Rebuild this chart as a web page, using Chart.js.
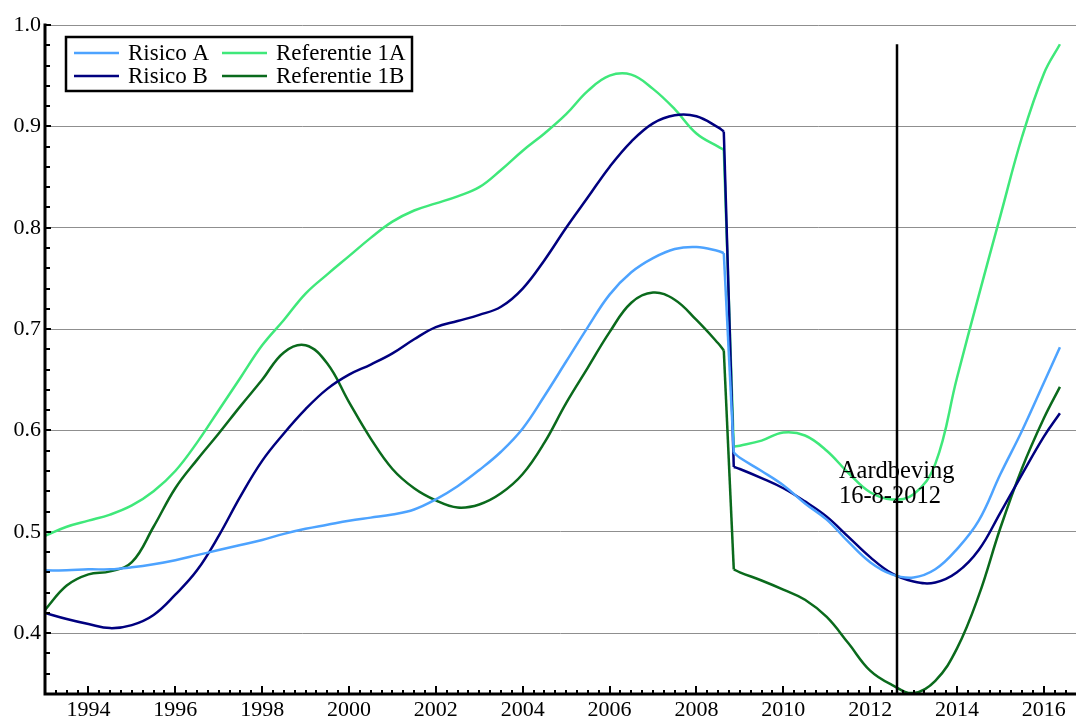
<!DOCTYPE html>
<html>
<head>
<meta charset="utf-8">
<title>Risico en referentie</title>
<script src="https://cdn.jsdelivr.net/npm/chart.js@4.4.1/dist/chart.umd.min.js"></script>
<style>
  html, body { margin: 0; padding: 0; background: #ffffff; }
  #wrap { width: 1076px; height: 722px; position: relative; }
</style>
</head>
<body>
<div id="wrap"><canvas id="chart" width="1076" height="722"></canvas></div>
<script>
// Time axis (decimal years) shared by all four series
const years = [
  1993.0, 1993.5, 1994.0, 1994.5, 1995.0, 1995.5, 1996.0, 1996.5,
  1997.0, 1997.5, 1998.0, 1998.5, 1999.0, 1999.5, 2000.0, 2000.5,
  2001.0, 2001.5, 2002.0, 2002.5, 2003.0, 2003.5, 2004.0, 2004.5,
  2005.0, 2005.5, 2006.0, 2006.5, 2007.0, 2007.5, 2008.0, 2008.5,
  2008.63, 2008.86,
  2009.0, 2009.5, 2010.0, 2010.5, 2011.0, 2011.5, 2012.0, 2012.5,
  2013.0, 2013.5, 2014.0, 2014.5, 2015.0, 2015.5, 2016.0, 2016.37
];

const risicoA = [
  0.462, 0.462, 0.463, 0.463, 0.465, 0.468, 0.472, 0.477,
  0.482, 0.487, 0.492, 0.498, 0.503, 0.507, 0.511, 0.514,
  0.517, 0.522, 0.532, 0.545, 0.561, 0.579, 0.602, 0.634,
  0.668, 0.702, 0.734, 0.756, 0.770, 0.779, 0.781, 0.777,
  0.775, 0.578,
  0.573, 0.560, 0.546, 0.528, 0.512, 0.490, 0.470, 0.458,
  0.455, 0.463, 0.483, 0.511, 0.557, 0.600, 0.647, 0.682
];

const risicoB = [
  0.420, 0.414, 0.409, 0.405, 0.408, 0.418, 0.438, 0.462,
  0.496, 0.535, 0.570, 0.597, 0.621, 0.641, 0.655, 0.665,
  0.676, 0.690, 0.702, 0.708, 0.714, 0.722, 0.740, 0.768,
  0.800, 0.830, 0.860, 0.885, 0.903, 0.911, 0.910, 0.899,
  0.895, 0.564,
  0.562, 0.553, 0.543, 0.530, 0.515, 0.495, 0.475, 0.459,
  0.451, 0.450, 0.460, 0.482, 0.519, 0.557, 0.594, 0.617
];

const referentie1A = [
  0.496, 0.505, 0.511, 0.517, 0.526, 0.540, 0.560, 0.588,
  0.620, 0.652, 0.684, 0.709, 0.735, 0.754, 0.772, 0.790,
  0.806, 0.817, 0.824, 0.831, 0.840, 0.857, 0.876, 0.893,
  0.912, 0.935, 0.950, 0.951, 0.937, 0.917, 0.893, 0.880,
  0.877, 0.584,
  0.585, 0.590, 0.598, 0.595, 0.580, 0.558, 0.539, 0.532,
  0.537, 0.567, 0.652, 0.733, 0.812, 0.890, 0.952, 0.981
];

const referentie1B = [
  0.423, 0.447, 0.458, 0.461, 0.470, 0.505, 0.543, 0.571,
  0.597, 0.624, 0.650, 0.677, 0.684, 0.666, 0.628, 0.592,
  0.562, 0.543, 0.531, 0.524, 0.527, 0.538, 0.557, 0.588,
  0.627, 0.662, 0.697, 0.726, 0.736, 0.729, 0.709, 0.686,
  0.679, 0.463,
  0.460, 0.452, 0.443, 0.433, 0.416, 0.390, 0.363, 0.349,
  0.341, 0.353, 0.385, 0.437, 0.504, 0.563, 0.612, 0.643
];

// Tick labels
const xTickYears = [1994, 1996, 1998, 2000, 2002, 2004, 2006, 2008, 2010, 2012, 2014, 2016];
const yTickValues = [0.4, 0.5, 0.6, 0.7, 0.8, 0.9, 1.0];

// The step in late 2008 is drawn as a straight segment between these two dates
const stepFrom = 2008.63, stepTo = 2008.86;

// Earthquake marker (16 August 2012)
const eventDate = 2012.623;
const eventTop = 0.981;
const eventLabel = ['Aardbeving', '16-8-2012'];
const eventLabelAt = { x: 2011.28, y: 0.553 };

const SERIF = '"Liberation Serif", "Times New Roman", serif';
const X_MIN = 1993.0, X_MAX = 2016.74, Y_MIN = 0.34, Y_MAX = 1.0;

const seriesDefs = [
  { label: 'Risico A', values: risicoA, color: '#4da3ff' },
  { label: 'Risico B', values: risicoB, color: '#00007f' },
  { label: 'Referentie 1A', values: referentie1A, color: '#3fe87a' },
  { label: 'Referentie 1B', values: referentie1B, color: '#0a6a1c' }
];

function points(values, from, to) {
  const out = [];
  years.forEach((x, i) => { if (x >= from && x <= to) out.push({ x: x, y: values[i] }); });
  return out;
}

// Each series: smooth part before the step, the straight step, smooth part after
function datasetsFor(def) {
  const base = {
    label: def.label,
    borderColor: def.color,
    backgroundColor: def.color,
    borderWidth: 2.5,
    pointRadius: 0,
    fill: false
  };
  return [
    Object.assign({}, base, { data: points(def.values, -Infinity, stepFrom), tension: 0.4 }),
    Object.assign({}, base, { data: points(def.values, stepFrom, stepTo), tension: 0 }),
    Object.assign({}, base, { data: points(def.values, stepTo, Infinity), tension: 0.4 })
  ];
}

const allDatasets = [];
seriesDefs.forEach(d => allDatasets.push(...datasetsFor(d)));

// Frame, inward tick marks, earthquake line and its caption, boxed legend
const framePlugin = {
  id: 'frameAndEvent',
  afterDatasetsDraw(chart) {
    const { ctx, chartArea: a, scales: { x, y } } = chart;
    ctx.save();

    const ex = Math.round(x.getPixelForValue(eventDate));
    ctx.strokeStyle = '#000';
    ctx.lineWidth = 2.5;
    ctx.beginPath();
    ctx.moveTo(ex, y.getPixelForValue(eventTop));
    ctx.lineTo(ex, a.bottom);
    ctx.stroke();

    ctx.fillStyle = '#000';
    ctx.font = '24.5px ' + SERIF;
    ctx.textAlign = 'left';
    ctx.textBaseline = 'alphabetic';
    const lx = x.getPixelForValue(eventLabelAt.x);
    const ly = y.getPixelForValue(eventLabelAt.y);
    eventLabel.forEach((t, i) => ctx.fillText(t, lx, ly + i * 25));

    ctx.lineWidth = 3;
    ctx.lineCap = 'square';
    ctx.beginPath();
    ctx.moveTo(a.left, a.top);
    ctx.lineTo(a.left, a.bottom);
    ctx.lineTo(a.right + 2, a.bottom);
    ctx.stroke();
    ctx.lineCap = 'butt';

    ctx.lineWidth = 2;
    for (let k = 17; k <= 50; k++) {
      const py = Math.round(y.getPixelForValue(k / 50));
      const len = (k % 5 === 0) ? 6 : 5;
      ctx.beginPath();
      ctx.moveTo(a.left, py);
      ctx.lineTo(a.left + len, py);
      ctx.stroke();
    }

    for (let q = 0; ; q++) {
      const v = X_MIN + q * 0.25;
      if (v > X_MAX) break;
      const px = Math.round(x.getPixelForValue(v));
      const major = Math.abs(v - Math.round(v)) < 1e-6 && Math.round(v) % 2 === 0;
      const len = major ? 8 : 4;
      ctx.beginPath();
      ctx.moveTo(px, a.bottom);
      ctx.lineTo(px, a.bottom - len);
      ctx.stroke();
    }
    ctx.restore();
  },
  afterDraw(chart) {
    const { ctx } = chart;
    const box = { left: 66, top: 37, right: 412, bottom: 91 };
    ctx.save();
    ctx.fillStyle = '#fff';
    ctx.fillRect(box.left, box.top, box.right - box.left, box.bottom - box.top);
    ctx.strokeStyle = '#000';
    ctx.lineWidth = 2.5;
    ctx.strokeRect(box.left, box.top, box.right - box.left, box.bottom - box.top);
    ctx.font = '23px ' + SERIF;
    ctx.textAlign = 'left';
    ctx.textBaseline = 'middle';
    const colX = [74, 222];
    const rowY = [53, 76];
    seriesDefs.forEach((s, i) => {
      const cx = colX[Math.floor(i / 2)];
      const cy = rowY[i % 2];
      ctx.strokeStyle = s.color;
      ctx.lineWidth = 2.5;
      ctx.beginPath();
      ctx.moveTo(cx, cy);
      ctx.lineTo(cx + 45, cy);
      ctx.stroke();
      ctx.fillStyle = '#000';
      ctx.fillText(s.label, cx + 54, cy + 1);
    });
    ctx.restore();
  }
};

new Chart(document.getElementById('chart'), {
  type: 'line',
  data: { datasets: allDatasets },
  options: {
    responsive: false,
    animation: false,
    devicePixelRatio: 1,
    layout: { padding: { top: 25, right: 0, left: 0, bottom: 0 } },
    plugins: {
      legend: { display: false },
      tooltip: { enabled: false }
    },
    scales: {
      x: {
        type: 'linear',
        min: X_MIN,
        max: X_MAX,
        grid: { display: false, drawTicks: false },
        border: { display: false },
        afterBuildTicks: (scale) => { scale.ticks = xTickYears.map(v => ({ value: v })); },
        afterFit: (scale) => { scale.height = 28; },
        ticks: {
          autoSkip: false,
          maxRotation: 0,
          padding: 3,
          color: '#000',
          font: { family: SERIF, size: 22 },
          callback: (v) => String(v)
        }
      },
      y: {
        type: 'linear',
        min: Y_MIN,
        max: Y_MAX,
        grid: { color: '#8f8f8f', lineWidth: 1, drawTicks: false },
        border: { display: false },
        afterBuildTicks: (scale) => { scale.ticks = yTickValues.map(v => ({ value: v })); },
        afterFit: (scale) => { scale.width = 45; },
        ticks: {
          padding: 4,
          color: '#000',
          font: { family: SERIF, size: 22 },
          callback: (v) => Number(v).toFixed(1)
        }
      }
    }
  },
  plugins: [framePlugin]
});
</script>
</body>
</html>
